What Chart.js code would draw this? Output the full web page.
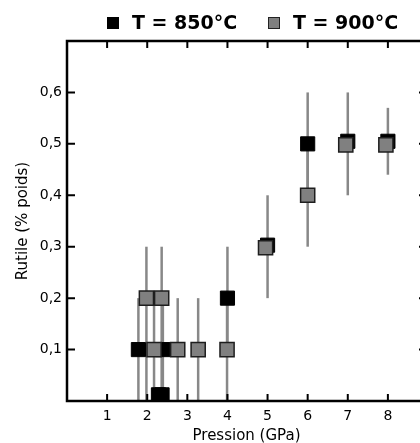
<!DOCTYPE html>
<html>
<head>
<meta charset="utf-8">
<script src="https://cdn.jsdelivr.net/npm/chart.js@4"></script>
<style>
  html, body { margin: 0; padding: 0; overflow: hidden; background: #fff; }
  #wrap { position: relative; width: 428px; height: 443px; }
  #chart { position: absolute; left: 0; top: 0; }
  .sq { position: absolute; width: 12px; height: 12px; box-sizing: border-box; }
  .lab { position: absolute; font: bold 19px "DejaVu Sans"; line-height: 22px; color: #000; white-space: nowrap; }
</style>
</head>
<body>
<div id="wrap">
  <canvas id="chart" width="428" height="443"></canvas>
  <div class="sq" style="left:107px; top:17px; background:#000;"></div>
  <div class="lab" style="left:132px; top:11px;">T = 850°C</div>
  <div class="sq" style="left:268px; top:17px; background:#808080; border:1.5px solid #222;"></div>
  <div class="lab" style="left:293px; top:11px;">T = 900°C</div>
</div>
<script>
// axis ticks
const xTicks = [1, 2, 3, 4, 5, 6, 7, 8];
const yTicks = [0.1, 0.2, 0.3, 0.4, 0.5, 0.6];

// T = 850°C (black squares)
const x850 = [1.78, 2.28, 2.37, 2.39, 4.0, 5.0, 6.0, 7.0, 8.0];
const y850 = [0.1, 0.012, 0.012, 0.1, 0.2, 0.303, 0.5, 0.505, 0.505];
const lo850 = [0, 0.012, 0.012, 0, 0.1, 0.2, 0.4, 0.4, 0.44];
const hi850 = [0.2, 0.012, 0.012, 0.2, 0.3, 0.4, 0.6, 0.6, 0.57];

// T = 900°C (grey squares)
const x900 = [1.98, 2.17, 2.36, 2.76, 3.27, 3.99, 4.95, 6.0, 6.95, 7.95];
const y900 = [0.2, 0.1, 0.2, 0.1, 0.1, 0.1, 0.298, 0.4, 0.498, 0.498];
const lo900 = [0, 0, 0, 0, 0, 0, 0.298, 0.3, 0.498, 0.498];
const hi900 = [0.3, 0.2, 0.3, 0.2, 0.2, 0.2, 0.298, 0.5, 0.498, 0.498];

Chart.defaults.font.family = '"DejaVu Sans", sans-serif';
Chart.defaults.color = '#000';

// vertical error bars, drawn under the squares
const errorBars = {
  id: 'errorBars',
  beforeDatasetsDraw(chart) {
    const {ctx, chartArea: a, scales: {x, y}} = chart;
    ctx.save();
    ctx.beginPath();
    ctx.rect(a.left, a.top, a.right - a.left, a.bottom - a.top);
    ctx.clip();
    ctx.strokeStyle = '#888';
    ctx.lineWidth = 2.5;
    const draw = (xs, lo, hi) => xs.forEach((v, i) => {
      if (hi[i] - lo[i] <= 0) return;
      const px = x.getPixelForValue(v);
      ctx.beginPath();
      ctx.moveTo(px, y.getPixelForValue(lo[i]));
      ctx.lineTo(px, y.getPixelForValue(hi[i]));
      ctx.stroke();
    });
    draw(x850, lo850, hi850);
    draw(x900, lo900, hi900);
    ctx.restore();
  }
};

// box around the plot with inward ticks on every side
const frame = {
  id: 'frame',
  afterDraw(chart) {
    const {ctx, chartArea: a, scales: {x, y}} = chart;
    ctx.save();
    ctx.strokeStyle = '#000';
    ctx.lineWidth = 2.5;
    ctx.strokeRect(a.left, a.top, a.right - a.left, a.bottom - a.top);
    ctx.lineWidth = 2;
    ctx.beginPath();
    xTicks.forEach(v => {
      const px = x.getPixelForValue(v);
      ctx.moveTo(px, a.bottom); ctx.lineTo(px, a.bottom - 7);
      ctx.moveTo(px, a.top); ctx.lineTo(px, a.top + 7);
    });
    yTicks.forEach(v => {
      const py = y.getPixelForValue(v);
      ctx.moveTo(a.left, py); ctx.lineTo(a.left + 8, py);
      ctx.moveTo(a.right, py); ctx.lineTo(a.right - 7, py);
    });
    ctx.stroke();
    ctx.restore();
  }
};

new Chart(document.getElementById('chart'), {
  type: 'scatter',
  data: {
    datasets: [
      {
        label: 'T = 900°C',
        data: x900.map((v, i) => ({x: v, y: y900[i]})),
        pointStyle: 'rect',
        pointRadius: 10,
        backgroundColor: '#808080',
        borderColor: '#1e1e1e',
        borderWidth: 1.5,
        order: 0
      },
      {
        label: 'T = 850°C',
        data: x850.map((v, i) => ({x: v, y: y850[i]})),
        pointStyle: 'rect',
        pointRadius: 10,
        backgroundColor: '#000',
        borderColor: '#000',
        borderWidth: 1,
        order: 1
      }
    ]
  },
  options: {
    responsive: false,
    animation: false,
    events: [],
    layout: { autoPadding: false, padding: { top: 41, right: 2, left: 0, bottom: 0 } },
    plugins: { legend: { display: false }, tooltip: { enabled: false } },
    scales: {
      x: {
        type: 'linear',
        min: 0,
        max: 8.95,
        afterBuildTicks: s => { s.ticks = xTicks.map(v => ({value: v})); },
        afterFit: s => { s.height = 42; s.paddingLeft = 0; s.paddingRight = 0; },
        grid: { display: false, drawTicks: false },
        border: { display: false },
        ticks: { font: { size: 14 }, padding: 7, maxRotation: 0, autoSkip: false, callback: v => String(v) },
        title: { display: true, text: 'Pression (GPa)', font: { size: 15 }, padding: { top: 0, bottom: -2 } }
      },
      y: {
        type: 'linear',
        min: 0,
        max: 0.7,
        afterBuildTicks: s => { s.ticks = yTicks.map(v => ({value: v})); },
        afterFit: s => { s.width = 67; s.paddingTop = 0; s.paddingBottom = 0; },
        grid: { display: false, drawTicks: false },
        border: { display: false },
        ticks: { font: { size: 14 }, padding: 5, autoSkip: false, callback: v => v.toFixed(1).replace('.', ',') },
        title: { display: true, text: 'Rutile (% poids)', font: { size: 15 }, padding: { top: 14, bottom: 0 } }
      }
    }
  },
  plugins: [errorBars, frame]
});
</script>
</body>
</html>
